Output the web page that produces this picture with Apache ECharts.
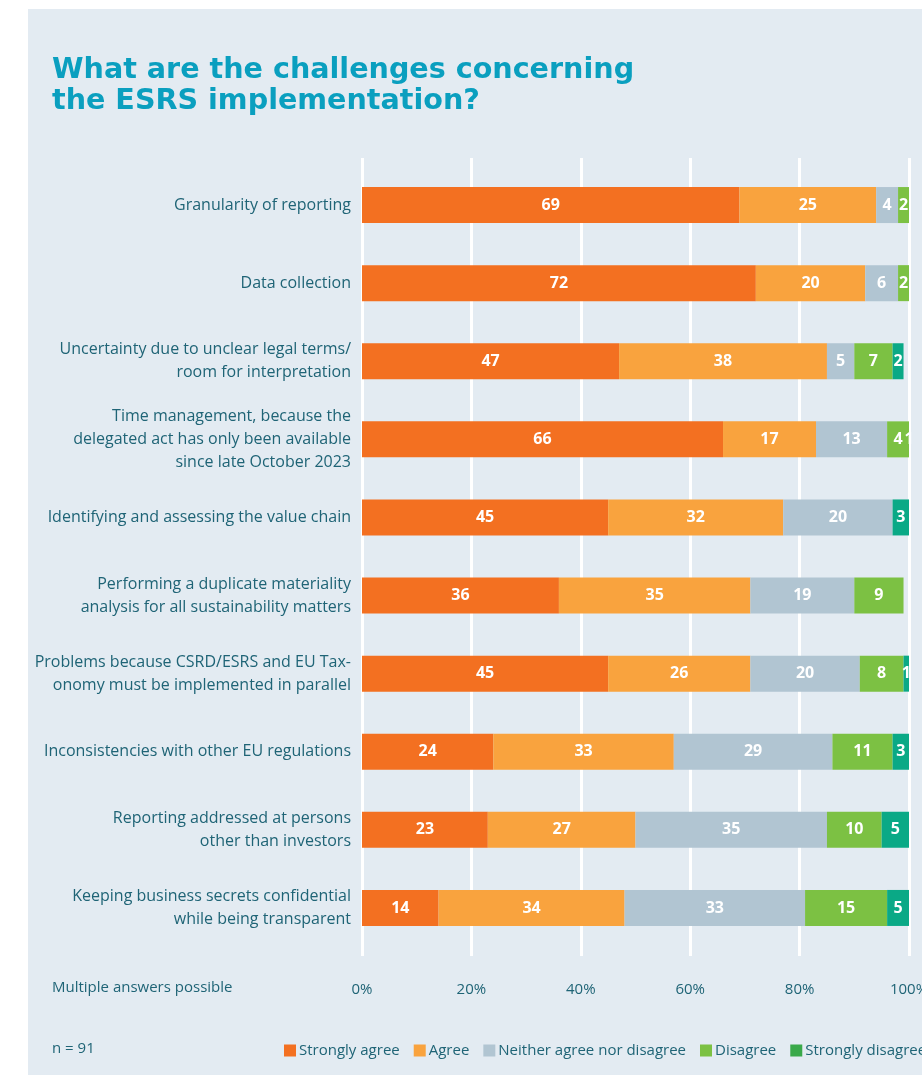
<!DOCTYPE html>
<html>
<head>
<meta charset="utf-8">
<title>ESRS implementation challenges</title>
<script src="https://cdn.jsdelivr.net/npm/echarts@6/dist/echarts.min.js"></script>
<style>
  html, body { margin: 0; padding: 0; background: #ffffff; }
  #chart { width: 922px; height: 1077px; }
</style>
</head>
<body>
<div id="chart"></div>
<script>
// Survey statements (top to bottom)
const categories = [
  'Granularity of reporting',
  'Data collection',
  'Uncertainty due to unclear legal terms/\nroom for interpretation',
  'Time management, because the\ndelegated act has only been available\nsince late October 2023',
  'Identifying and assessing the value chain',
  'Performing a duplicate materiality\nanalysis for all sustainability matters',
  'Problems because CSRD/ESRS and EU Tax-\nonomy must be implemented in parallel',
  'Inconsistencies with other EU regulations',
  'Reporting addressed at persons\nother than investors',
  'Keeping business secrets confidential\nwhile being transparent'
];

// Share of respondents in percent
const stronglyAgree    = [69, 72, 47, 66, 45, 36, 45, 24, 23, 14];
const agree            = [25, 20, 38, 17, 32, 35, 26, 33, 27, 34];
const neither          = [4, 6, 5, 13, 20, 19, 20, 29, 35, 33];
const disagree         = [2, 2, 7, 4, 0, 9, 8, 11, 10, 15];
const stronglyDisagree = [0, 0, 2, 1, 3, 0, 1, 3, 5, 5];

const seriesNames = ['Strongly agree', 'Agree', 'Neither agree nor disagree', 'Disagree', 'Strongly disagree'];
const seriesColors = ['#f37021', '#f9a33e', '#b1c5d2', '#7cc143', '#0aa986'];
const seriesValues = [stronglyAgree, agree, neither, disagree, stronglyDisagree];

const tickValues = [0, 20, 40, 60, 80, 100];

const textColor = '#1f6476';
const baseFont = '"Open Sans", "Noto Sans", sans-serif';

const chart = echarts.init(document.getElementById('chart'), null, { renderer: 'canvas' });

const barSeries = seriesNames.map((name, i) => ({
  name: name,
  type: 'bar',
  stack: 'total',
  xAxisIndex: 0,
  yAxisIndex: 0,
  barWidth: 36,
  clip: true,
  data: seriesValues[i],
  itemStyle: { color: seriesColors[i] },
  label: {
    show: true,
    position: 'inside',
    color: '#ffffff',
    fontFamily: baseFont,
    fontWeight: 'bold',
    fontSize: 16,
    formatter: p => (p.value ? String(p.value) : '')
  },
  emphasis: { disabled: true }
}));

const option = {
  backgroundColor: '#ffffff',
  animation: false,
  textStyle: { fontFamily: baseFont, color: textColor },
  graphic: [
    {
      type: 'rect', z: -10, silent: true,
      shape: { x: 28, y: 9, width: 900, height: 1066 },
      style: { fill: '#e3ebf2' }
    },
    {
      type: 'text', left: 52, top: 55, silent: true,
      style: {
        text: 'What are the challenges concerning\nthe ESRS implementation?',
        fill: '#0a9fbf',
        font: 'bold 28.6px "DejaVu Sans", "Liberation Sans", sans-serif',
        lineHeight: 31
      }
    },
    {
      type: 'text', left: 52, top: 980, silent: true,
      style: { text: 'Multiple answers possible', fill: textColor, font: '15px ' + baseFont }
    },
    {
      type: 'text', left: 52, top: 1041, silent: true,
      style: { text: 'n = 91', fill: textColor, font: '15px ' + baseFont }
    }
  ],
  legend: {
    left: 279,
    top: 1038,
    width: 720,
    itemWidth: 12,
    itemHeight: 12,
    itemGap: 14,
    icon: 'rect',
    selectedMode: false,
    textStyle: { color: textColor, fontSize: 15, fontFamily: baseFont, padding: [0, 0, 0, -2] },
    data: seriesNames.map((n, i) => ({
      name: n,
      itemStyle: i === 4 ? { color: '#3aa94a' } : undefined
    }))
  },
  grid: [
    // bars
    { left: 362, width: 547, top: 166, height: 781, containLabel: false, outerBoundsMode: 'none' },
    // gridlines and percent ticks
    { left: 362, width: 547, top: 158, height: 798, containLabel: false, outerBoundsMode: 'none' }
  ],
  xAxis: [
    {
      gridIndex: 0, type: 'value', min: 0, max: 100, interval: 20,
      show: false
    },
    {
      gridIndex: 1, type: 'value', min: 0, max: 100, interval: 20,
      axisLine: { show: false },
      axisTick: { show: false },
      splitLine: { show: true, showMinLine: true, showMaxLine: true, lineStyle: { color: '#ffffff', width: 3 } },
      axisLabel: {
        margin: 26,
        color: textColor,
        fontSize: 15,
        fontFamily: baseFont,
        hideOverlap: false,
        formatter: v => (tickValues.indexOf(v) >= 0 ? v + '%' : '')
      },
      z: 0
    }
  ],
  yAxis: [
    {
      gridIndex: 0, type: 'category', inverse: true, data: categories,
      axisLine: { show: false },
      axisTick: { show: false },
      splitLine: { show: false },
      axisLabel: {
        margin: 11,
        color: textColor,
        fontSize: 16,
        fontFamily: baseFont,
        lineHeight: 23,
        align: 'right'
      }
    },
    {
      gridIndex: 1, type: 'value', min: 0, max: 1, show: false
    }
  ],
  series: barSeries
};

chart.setOption(option);
</script>
</body>
</html>
